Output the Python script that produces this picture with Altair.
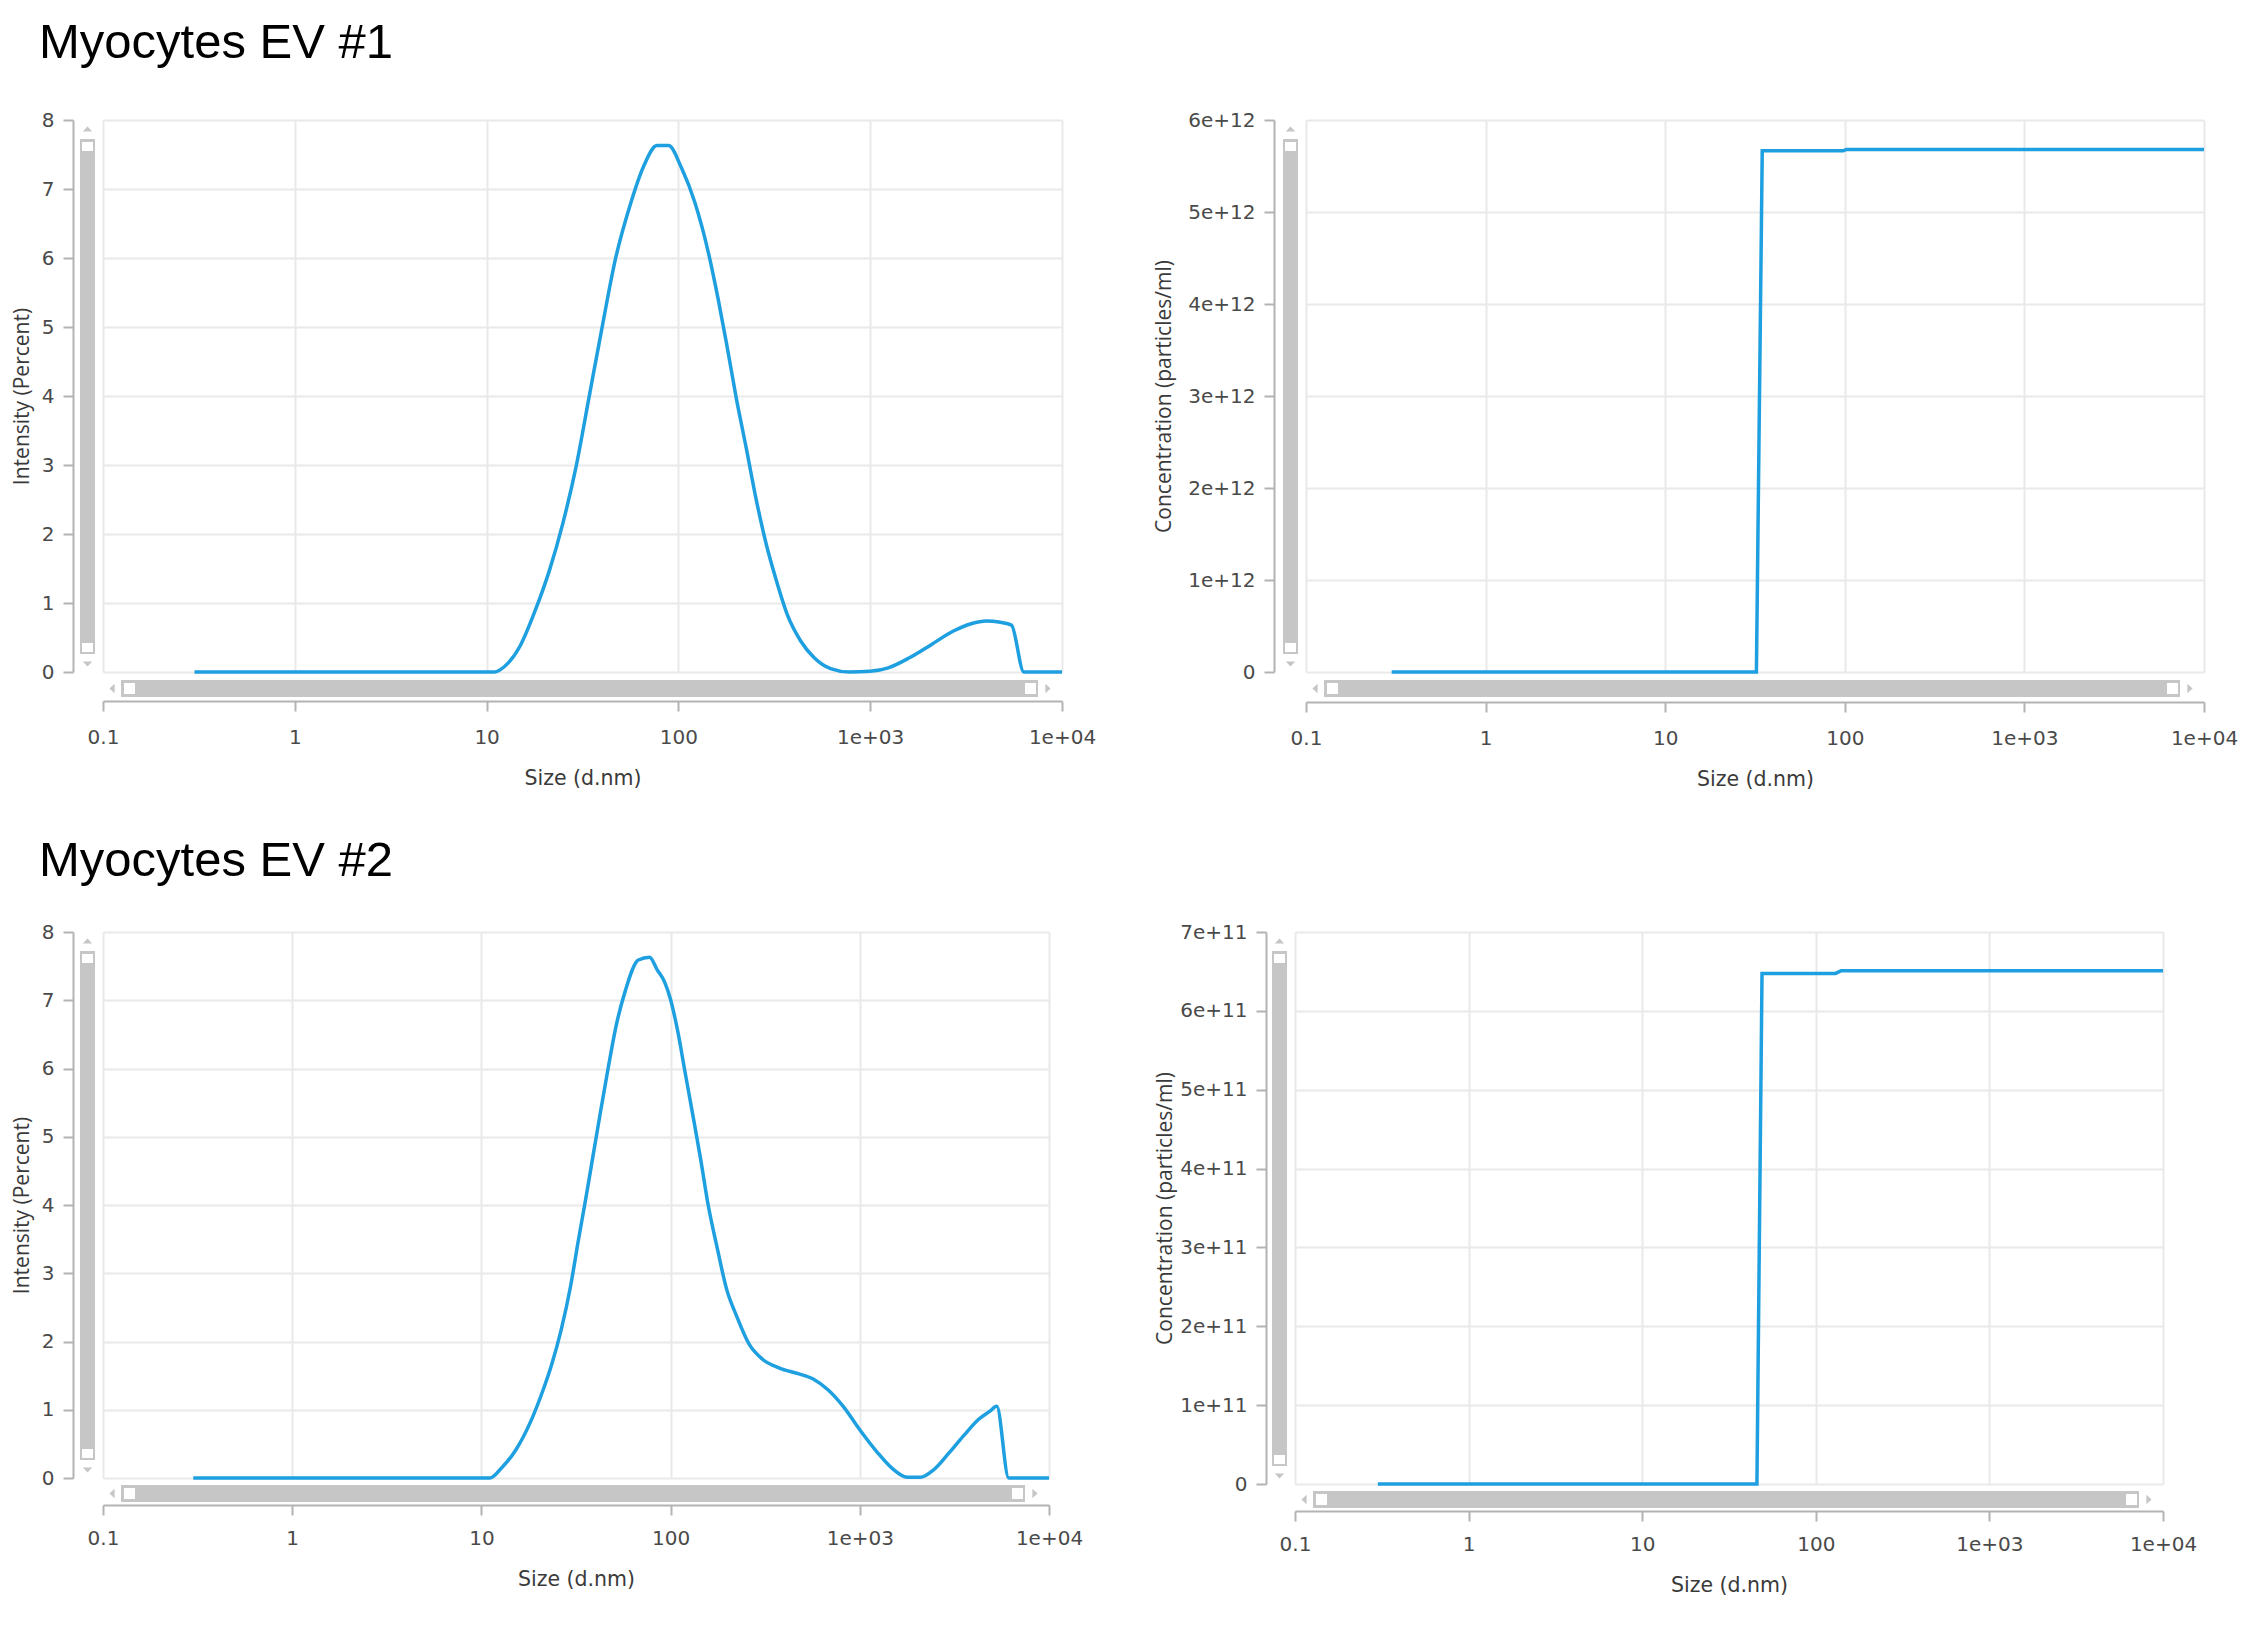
import json
import altair as alt
import pandas as pd

# ---------------- data ----------------
titles = ["Myocytes EV #1", "Myocytes EV #2"]

ev1_size = [0.3, 11.0, 12.4, 14.9, 17.8, 21.3, 24.9, 29.3, 34.2, 40.1, 47.0, 56.2, 65.9,
            77.3, 88.8, 104, 122, 143, 161, 178, 200, 226, 254, 286, 323, 371, 434, 509,
            621, 780, 1000, 1242, 1610, 2090, 2700, 3360, 4020, 4780, 5450, 6330, 10000]
ev1_intensity = [0, 0, 0.08, 0.37, 0.87, 1.48, 2.14, 2.98, 3.98, 5.01, 5.99, 6.78, 7.33,
                 7.63, 7.63, 7.30, 6.80, 6.09, 5.41, 4.77, 3.98, 3.24, 2.51, 1.87, 1.34, 0.82,
                 0.45, 0.21, 0.05, 0, 0.01, 0.06, 0.21, 0.40, 0.59, 0.70, 0.74, 0.72, 0.68, 0, 0]

ev2_size = [0.3, 11.1, 12.7, 15.2, 18.3, 21.0, 23.5, 26.4, 29.6, 32.4, 35.6, 38.9, 42.7,
            46.8, 51.3, 57.5, 67.5, 77.4, 84.8, 92.9, 99.5, 109, 119, 131, 144, 157, 177,
            198, 222, 260, 306, 376, 472, 567, 681, 817, 1004, 1234, 1483, 1780, 2090,
            2455, 2946, 3541, 4250, 4875, 5294, 6125, 10000]
ev2_intensity = [0, 0, 0.14, 0.41, 0.84, 1.26, 1.66, 2.17, 2.81, 3.45, 4.09, 4.72, 5.38,
                 6.01, 6.60, 7.13, 7.59, 7.63, 7.45, 7.27, 7.03, 6.55, 5.96, 5.32, 4.68, 4.04,
                 3.35, 2.76, 2.39, 1.96, 1.74, 1.61, 1.53, 1.45, 1.29, 1.05, 0.70, 0.38, 0.14,
                 0.01, 0.01, 0.12, 0.36, 0.62, 0.86, 0.98, 1.05, 0, 0]

ev1_conc_size = [0.3, 32.2, 34.7, 98.0, 102.0, 10000]
ev1_conc = [0, 0, 5.665e12, 5.665e12, 5.68e12, 5.68e12]
ev2_conc_size = [0.3, 45.8, 49.0, 130.0, 140.0, 10000]
ev2_conc = [0, 0, 6.475e11, 6.475e11, 6.51e11, 6.51e11]

x_ticks = [0.1, 1, 10, 100, 1000, 10000]
x_tick_labels = ["0.1", "1", "10", "100", "1e+03", "1e+04"]
intensity_ticks = [0, 1, 2, 3, 4, 5, 6, 7, 8]
intensity_labels = ["0", "1", "2", "3", "4", "5", "6", "7", "8"]
conc1_ticks = [0, 1e12, 2e12, 3e12, 4e12, 5e12, 6e12]
conc1_labels = ["0", "1e+12", "2e+12", "3e+12", "4e+12", "5e+12", "6e+12"]
conc2_ticks = [0, 1e11, 2e11, 3e11, 4e11, 5e11, 6e11, 7e11]
conc2_labels = ["0", "1e+11", "2e+11", "3e+11", "4e+11", "5e+11", "6e+11", "7e+11"]

# ---------------- styles ----------------
LINE = "#1e9fe0"
BAR = "#c6c6c6"
AXIS = "#b3b3b3"
GRID = "#e9e9e9"
LABEL = "#4a4a4a"
TITLE = "#3a3a3a"

x_label_expr = json.dumps(x_tick_labels) + "[round(log(datum.value) / LN10) + 1]"


def y_label_expr(labels, ticks):
    return json.dumps(labels) + "[round(datum.value / " + repr(float(ticks[1])) + ")]"


one = alt.Data(values=[{"k": 1}])


def rect(x1, x2, y1, y2, color):
    return alt.Chart(one).mark_rect(color=color).encode(
        x=alt.value(x1), x2=alt.value(x2), y=alt.value(y1), y2=alt.value(y2))


def arrow(path, x, y):
    return alt.Chart(one).mark_point(shape=path, filled=True, size=90, color=BAR,
                                     opacity=1, strokeWidth=0).encode(
        x=alt.value(x), y=alt.value(y))


def panel(sizes, vals, w, h, y_ticks, y_labels, y_title, y_title_x,
          x_off, y_off, label_pad, title_y, bar_top, smooth, title=None, title_xy=None):
    df = pd.DataFrame({"size": sizes, "value": vals})
    xax = alt.Axis(values=x_ticks, labelExpr=x_label_expr, title="Size (d.nm)",
                   offset=x_off, labelPadding=label_pad, labelFlush=False,
                   titleY=title_y, titleBaseline="middle",
                   titleFont="DejaVu Sans", titleFontSize=20.5)
    yax = alt.Axis(values=y_ticks, labelExpr=y_label_expr(y_labels, y_ticks),
                   title=y_title, offset=y_off, labelPadding=9, labelFlush=False,
                   titleX=y_title_x, titleBaseline="middle",
                   titleFont="Open Sans", titleFontSize=21)
    line = alt.Chart(df).mark_line(
        color=LINE, strokeWidth=3.5,
        interpolate="monotone" if smooth else "linear").encode(
        x=alt.X("size:Q", scale=alt.Scale(type="log", domain=[0.1, 10000]), axis=xax),
        y=alt.Y("value:Q", scale=alt.Scale(domain=[0, y_ticks[-1]], nice=False), axis=yax),
    )
    b0 = h + bar_top
    layers = [
        line,
        # vertical scroll bar
        rect(-23, -8, 19, h - 18, BAR),
        rect(-21, -10, 22, 31, "white"),
        rect(-21, -10, h - 29, h - 20, "white"),
        arrow("M-1,0.55L1,0.55L0,-0.55Z", -15.5, 9),
        arrow("M-1,-0.55L1,-0.55L0,0.55Z", -15.5, h - 8),
        # horizontal scroll bar
        rect(18, w - 24, b0, b0 + 17, BAR),
        rect(21, 32, b0 + 3, b0 + 14, "white"),
        rect(w - 37, w - 26, b0 + 3, b0 + 14, "white"),
        arrow("M0.55,-1L0.55,1L-0.55,0Z", 9, b0 + 8.5),
        arrow("M-0.55,-1L-0.55,1L0.55,0Z", w - 14, b0 + 8.5),
    ]
    if title is not None:
        layers.append(
            alt.Chart(one).mark_text(text=title, font="Liberation Sans", fontSize=49,
                                     align="left", baseline="alphabetic",
                                     color="black").encode(
                x=alt.value(title_xy[0]), y=alt.value(title_xy[1])))
    return alt.layer(*layers).properties(width=w, height=h)


tl = panel(ev1_size, ev1_intensity, 959, 552, intensity_ticks, intensity_labels,
           "Intensity (Percent)", -51, 29, 30, 16, 77, 8, True, titles[0], (-64, -62))
tr = panel(ev1_conc_size, ev1_conc, 898, 552, conc1_ticks, conc1_labels,
           "Concentration (particles/ml)", -110, 30, 32, 16, 77, 8, False)
bl = panel(ev2_size, ev2_intensity, 946, 546, intensity_ticks, intensity_labels,
           "Intensity (Percent)", -51, 27, 30, 13, 74, 7, True, titles[1], (-64, -56))
br = panel(ev2_conc_size, ev2_conc, 868, 552, conc2_ticks, conc2_labels,
           "Concentration (particles/ml)", -101, 27, 29, 13, 74, 7, False)

row1 = alt.hconcat(tl, tr, spacing=244, bounds="flush")
row2 = alt.hconcat(bl, br, spacing=246, bounds="flush")

chart = alt.vconcat(row1, row2, spacing=47).properties(
    padding={"left": 3, "top": 11, "right": 5, "bottom": 5},
).configure_view(stroke=None).configure_axis(
    domainColor=AXIS, domainWidth=2, tickColor=AXIS, tickWidth=2, tickSize=10,
    gridColor=GRID, gridWidth=2,
    labelFont="DejaVu Sans", labelFontSize=20, labelColor=LABEL,
    titleColor=TITLE, titleFontWeight="normal",
)

chart.save("out.html", embed_options={"renderer": "svg", "actions": False})
